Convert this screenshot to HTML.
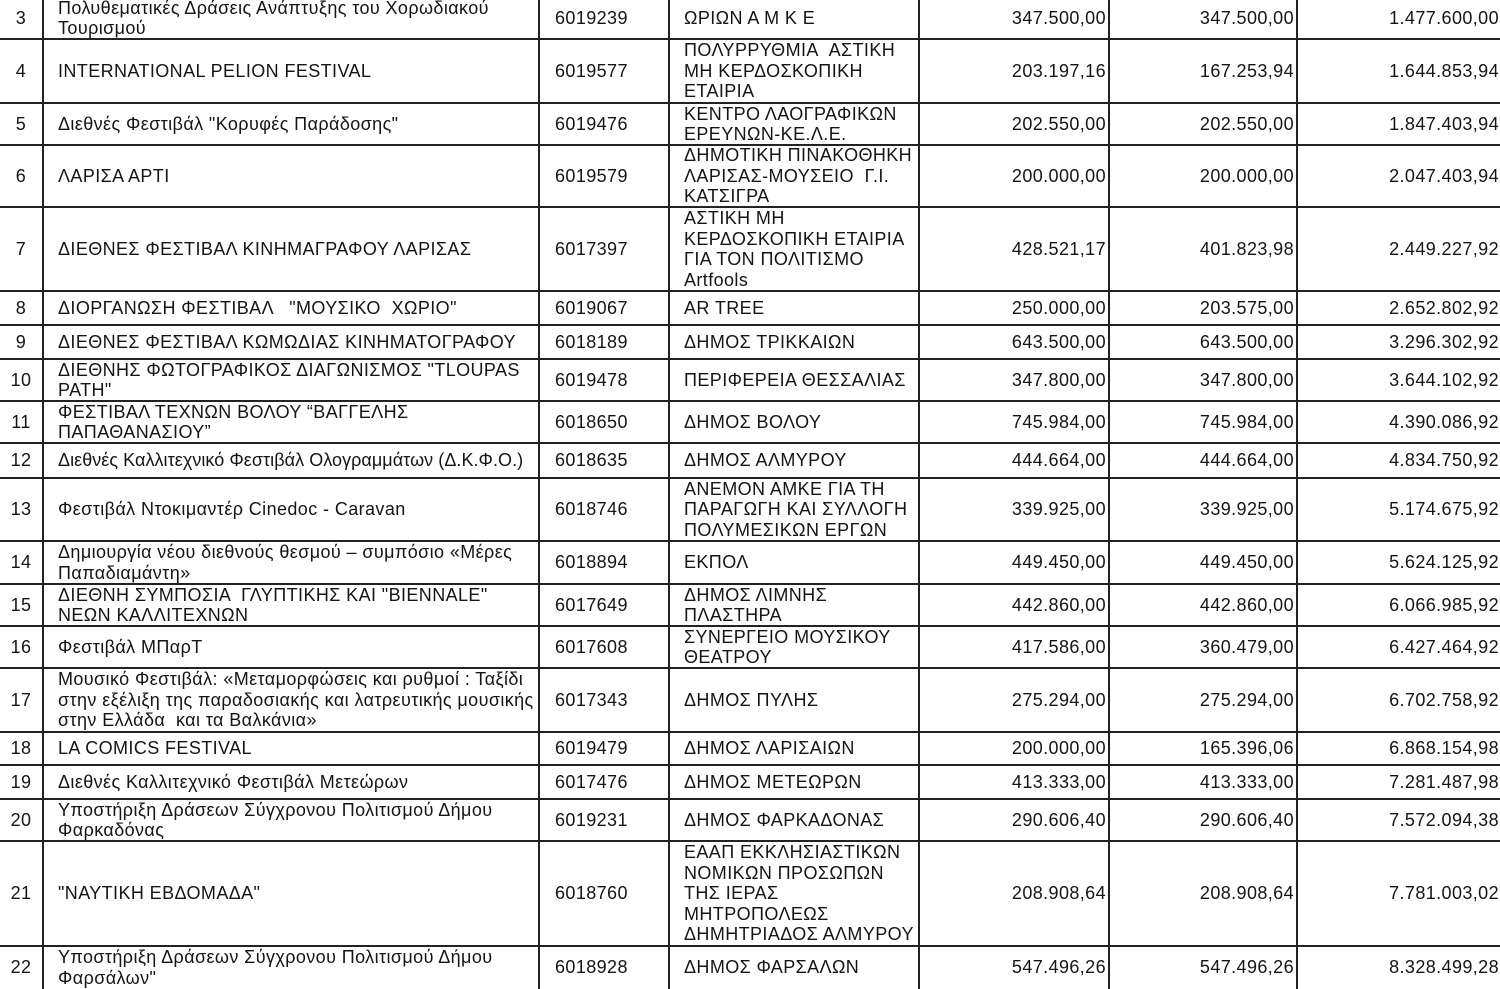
<!DOCTYPE html>
<html><head><meta charset="utf-8"><style>
body{margin:0;width:1500px;height:987px;overflow:hidden;background:#fff;position:relative;font-family:"Liberation Sans","DejaVu Sans",sans-serif;font-size:18px;letter-spacing:0.4px;color:#151515;}
.r{position:absolute;left:0;width:1500px;border-top:2px solid #222;box-sizing:border-box;}
.c{position:absolute;top:0;bottom:0;display:flex;align-items:center;box-sizing:border-box;line-height:20.5px;white-space:nowrap;padding-bottom:1px;}
.c0{left:0;width:42px;justify-content:center;}
.c1{left:42px;width:496px;padding-left:14px;border-left:2px solid #222;}
.c2{left:538px;width:132px;padding-left:15px;border-left:2px solid #222;}
.c3{left:668px;width:250px;padding-left:14px;border-left:2px solid #222;}
.c4{left:918px;width:190px;justify-content:flex-end;padding-right:2px;border-left:2px solid #222;}
.c5{left:1108px;width:188px;justify-content:flex-end;padding-right:2px;border-left:2px solid #222;}
.c6{left:1296px;width:204px;justify-content:flex-end;padding-right:1px;border-left:2px solid #222;}
</style></head><body>
<div class="r" style="top:-4px;height:45px;border-top:none"><div class="c c0">3</div><div class="c c1">Πολυθεματικές Δράσεις Ανάπτυξης του Χορωδιακού<br>Τουρισμού</div><div class="c c2">6019239</div><div class="c c3">ΩΡΙΩΝ Α Μ Κ Ε</div><div class="c c4">347.500,00</div><div class="c c5">347.500,00</div><div class="c c6">1.477.600,00</div></div>
<div class="r" style="top:38px;height:65px"><div class="c c0">4</div><div class="c c1">INTERNATIONAL PELION FESTIVAL</div><div class="c c2">6019577</div><div class="c c3">ΠΟΛΥΡΡΥΘΜΙΑ &nbsp;ΑΣΤΙΚΗ<br>ΜΗ ΚΕΡΔΟΣΚΟΠΙΚΗ<br>ΕΤΑΙΡΙΑ</div><div class="c c4">203.197,16</div><div class="c c5">167.253,94</div><div class="c c6">1.644.853,94</div></div>
<div class="r" style="top:102px;height:43px"><div class="c c0">5</div><div class="c c1">Διεθνές Φεστιβάλ "Κορυφές Παράδοσης"</div><div class="c c2">6019476</div><div class="c c3">ΚΕΝΤΡΟ ΛΑΟΓΡΑΦΙΚΩΝ<br>ΕΡΕΥΝΩΝ-ΚΕ.Λ.Ε.</div><div class="c c4">202.550,00</div><div class="c c5">202.550,00</div><div class="c c6">1.847.403,94</div></div>
<div class="r" style="top:144px;height:63px"><div class="c c0">6</div><div class="c c1">ΛΑΡΙΣΑ ΑΡΤΙ</div><div class="c c2">6019579</div><div class="c c3">ΔΗΜΟΤΙΚΗ ΠΙΝΑΚΟΘΗΚΗ<br>ΛΑΡΙΣΑΣ-ΜΟΥΣΕΙΟ &nbsp;Γ.Ι.<br>ΚΑΤΣΙΓΡΑ</div><div class="c c4">200.000,00</div><div class="c c5">200.000,00</div><div class="c c6">2.047.403,94</div></div>
<div class="r" style="top:206px;height:85px"><div class="c c0">7</div><div class="c c1">ΔΙΕΘΝΕΣ ΦΕΣΤΙΒΑΛ ΚΙΝΗΜΑΓΡΑΦΟΥ ΛΑΡΙΣΑΣ</div><div class="c c2">6017397</div><div class="c c3">ΑΣΤΙΚΗ ΜΗ<br>ΚΕΡΔΟΣΚΟΠΙΚΗ ΕΤΑΙΡΙΑ<br>ΓΙΑ ΤΟΝ ΠΟΛΙΤΙΣΜΟ<br>Artfools</div><div class="c c4">428.521,17</div><div class="c c5">401.823,98</div><div class="c c6">2.449.227,92</div></div>
<div class="r" style="top:290px;height:35px"><div class="c c0">8</div><div class="c c1">ΔΙΟΡΓΑΝΩΣΗ ΦΕΣΤΙΒΑΛ &nbsp;&nbsp;"ΜΟΥΣΙΚΟ &nbsp;ΧΩΡΙΟ"</div><div class="c c2">6019067</div><div class="c c3">AR TREE</div><div class="c c4">250.000,00</div><div class="c c5">203.575,00</div><div class="c c6">2.652.802,92</div></div>
<div class="r" style="top:324px;height:35px"><div class="c c0">9</div><div class="c c1">ΔΙΕΘΝΕΣ ΦΕΣΤΙΒΑΛ ΚΩΜΩΔΙΑΣ ΚΙΝΗΜΑΤΟΓΡΑΦΟΥ</div><div class="c c2">6018189</div><div class="c c3">ΔΗΜΟΣ ΤΡΙΚΚΑΙΩΝ</div><div class="c c4">643.500,00</div><div class="c c5">643.500,00</div><div class="c c6">3.296.302,92</div></div>
<div class="r" style="top:358px;height:43px"><div class="c c0">10</div><div class="c c1">ΔΙΕΘΝΗΣ ΦΩΤΟΓΡΑΦΙΚΟΣ ΔΙΑΓΩΝΙΣΜΟΣ "TLOUPAS<br>PATH"</div><div class="c c2">6019478</div><div class="c c3">ΠΕΡΙΦΕΡΕΙΑ ΘΕΣΣΑΛΙΑΣ</div><div class="c c4">347.800,00</div><div class="c c5">347.800,00</div><div class="c c6">3.644.102,92</div></div>
<div class="r" style="top:400px;height:43px"><div class="c c0">11</div><div class="c c1">ΦΕΣΤΙΒΑΛ ΤΕΧΝΩΝ ΒΟΛΟΥ “ΒΑΓΓΕΛΗΣ<br>ΠΑΠΑΘΑΝΑΣΙΟΥ”</div><div class="c c2">6018650</div><div class="c c3">ΔΗΜΟΣ ΒΟΛΟΥ</div><div class="c c4">745.984,00</div><div class="c c5">745.984,00</div><div class="c c6">4.390.086,92</div></div>
<div class="r" style="top:442px;height:36px"><div class="c c0">12</div><div class="c c1" style="letter-spacing:0.05px">Διεθνές Καλλιτεχνικό Φεστιβάλ Ολογραμμάτων (Δ.Κ.Φ.Ο.)</div><div class="c c2">6018635</div><div class="c c3">ΔΗΜΟΣ ΑΛΜΥΡΟΥ</div><div class="c c4">444.664,00</div><div class="c c5">444.664,00</div><div class="c c6">4.834.750,92</div></div>
<div class="r" style="top:477px;height:64px"><div class="c c0">13</div><div class="c c1">Φεστιβάλ Ντοκιμαντέρ Cinedoc - Caravan</div><div class="c c2">6018746</div><div class="c c3">ΑΝΕΜΟΝ ΑΜΚΕ ΓΙΑ ΤΗ<br>ΠΑΡΑΓΩΓΗ ΚΑΙ ΣΥΛΛΟΓΗ<br>ΠΟΛΥΜΕΣΙΚΩΝ ΕΡΓΩΝ</div><div class="c c4">339.925,00</div><div class="c c5">339.925,00</div><div class="c c6">5.174.675,92</div></div>
<div class="r" style="top:540px;height:44px"><div class="c c0">14</div><div class="c c1">Δημιουργία νέου διεθνούς θεσμού – συμπόσιο «Μέρες<br>Παπαδιαμάντη»</div><div class="c c2">6018894</div><div class="c c3">ΕΚΠΟΛ</div><div class="c c4">449.450,00</div><div class="c c5">449.450,00</div><div class="c c6">5.624.125,92</div></div>
<div class="r" style="top:583px;height:43px"><div class="c c0">15</div><div class="c c1">ΔΙΕΘΝΗ ΣΥΜΠΟΣΙΑ &nbsp;ΓΛΥΠΤΙΚΗΣ ΚΑΙ "BIENNALE"<br>ΝΕΩΝ ΚΑΛΛΙΤΕΧΝΩΝ</div><div class="c c2">6017649</div><div class="c c3">ΔΗΜΟΣ ΛΙΜΝΗΣ<br>ΠΛΑΣΤΗΡΑ</div><div class="c c4">442.860,00</div><div class="c c5">442.860,00</div><div class="c c6">6.066.985,92</div></div>
<div class="r" style="top:625px;height:43px"><div class="c c0">16</div><div class="c c1">Φεστιβάλ ΜΠαρΤ</div><div class="c c2">6017608</div><div class="c c3">ΣΥΝΕΡΓΕΙΟ ΜΟΥΣΙΚΟΥ<br>ΘΕΑΤΡΟΥ</div><div class="c c4">417.586,00</div><div class="c c5">360.479,00</div><div class="c c6">6.427.464,92</div></div>
<div class="r" style="top:667px;height:65px"><div class="c c0">17</div><div class="c c1" style="letter-spacing:0.4px">Μουσικό Φεστιβάλ: «Μεταμορφώσεις και ρυθμοί : Ταξίδι<br>στην εξέλιξη της παραδοσιακής και λατρευτικής μουσικής<br>στην Ελλάδα &nbsp;και τα Βαλκάνια»</div><div class="c c2">6017343</div><div class="c c3">ΔΗΜΟΣ ΠΥΛΗΣ</div><div class="c c4">275.294,00</div><div class="c c5">275.294,00</div><div class="c c6">6.702.758,92</div></div>
<div class="r" style="top:731px;height:34px"><div class="c c0">18</div><div class="c c1">LA COMICS FESTIVAL</div><div class="c c2">6019479</div><div class="c c3">ΔΗΜΟΣ ΛΑΡΙΣΑΙΩΝ</div><div class="c c4">200.000,00</div><div class="c c5">165.396,06</div><div class="c c6">6.868.154,98</div></div>
<div class="r" style="top:764px;height:35px"><div class="c c0">19</div><div class="c c1">Διεθνές Καλλιτεχνικό Φεστιβάλ Μετεώρων</div><div class="c c2">6017476</div><div class="c c3">ΔΗΜΟΣ ΜΕΤΕΩΡΩΝ</div><div class="c c4">413.333,00</div><div class="c c5">413.333,00</div><div class="c c6">7.281.487,98</div></div>
<div class="r" style="top:798px;height:43px"><div class="c c0">20</div><div class="c c1">Υποστήριξη Δράσεων Σύγχρονου Πολιτισμού Δήμου<br>Φαρκαδόνας</div><div class="c c2">6019231</div><div class="c c3">ΔΗΜΟΣ ΦΑΡΚΑΔΟΝΑΣ</div><div class="c c4">290.606,40</div><div class="c c5">290.606,40</div><div class="c c6">7.572.094,38</div></div>
<div class="r" style="top:840px;height:106px"><div class="c c0">21</div><div class="c c1">"ΝΑΥΤΙΚΗ ΕΒΔΟΜΑΔΑ"</div><div class="c c2">6018760</div><div class="c c3">ΕΑΑΠ ΕΚΚΛΗΣΙΑΣΤΙΚΩΝ<br>ΝΟΜΙΚΩΝ ΠΡΟΣΩΠΩΝ<br>ΤΗΣ ΙΕΡΑΣ<br>ΜΗΤΡΟΠΟΛΕΩΣ<br>ΔΗΜΗΤΡΙΑΔΟΣ ΑΛΜΥΡΟΥ</div><div class="c c4">208.908,64</div><div class="c c5">208.908,64</div><div class="c c6">7.781.003,02</div></div>
<div class="r" style="top:945px;height:44px"><div class="c c0">22</div><div class="c c1">Υποστήριξη Δράσεων Σύγχρονου Πολιτισμού Δήμου<br>Φαρσάλων"</div><div class="c c2">6018928</div><div class="c c3">ΔΗΜΟΣ ΦΑΡΣΑΛΩΝ</div><div class="c c4">547.496,26</div><div class="c c5">547.496,26</div><div class="c c6">8.328.499,28</div></div>
</body></html>
